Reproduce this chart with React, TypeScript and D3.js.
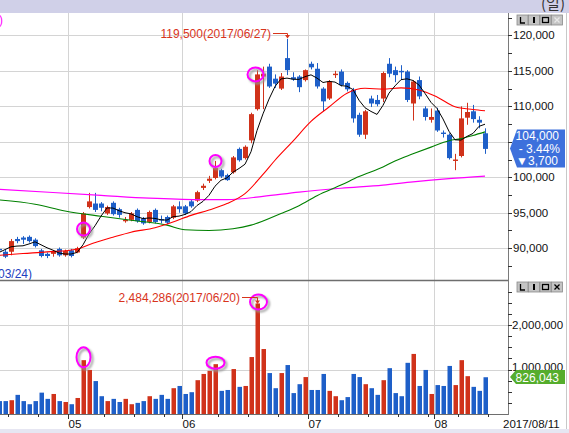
import React from 'react';
import * as d3 from 'd3';

const dates = [
  '04/13','04/14','04/17','04/18','04/19','04/20','04/21','04/24','04/25','04/26','04/27','04/28',
  '05/02','05/04','05/08','05/10','05/11','05/12','05/15','05/16','05/17','05/18','05/19','05/22','05/23','05/24','05/25','05/26','05/29','05/30','05/31',
  '06/01','06/02','06/05','06/07','06/08','06/09','06/12','06/13','06/14','06/15','06/16','06/19','06/20','06/21','06/22','06/23','06/26','06/27','06/28','06/29','06/30',
  '07/03','07/04','07/05','07/06','07/07','07/10','07/11','07/12','07/13','07/14','07/17','07/18','07/19','07/20','07/21','07/24','07/25','07/26','07/27','07/28','07/31',
  '08/01','08/02','08/03','08/04','08/07','08/08','08/09','08/10','08/11'
];

const opens = [
  89900, 89500, 89500, 91300, 91500, 91600, 91200, 89700, 89200, 89200, 89900, 89000,
  89700, 89400, 91500, 95800, 96300, 96300, 94900, 96400, 95500, 93800, 94000, 95400, 94200, 93700, 95400, 94100, 94400, 94300, 95900,
  95900, 96600, 96700, 98500, 99500, 99900, 101000, 100300, 100700, 104000, 102700, 105200, 109600, 114200, 115600, 113900, 112500, 116800, 114100, 114200, 113700,
  116000, 115300, 112500, 111100, 114400, 114900, 113300, 112300, 108800, 106000, 111100, 110900, 111100, 116000, 115100, 115000, 114900, 110400, 113700, 109700, 108100,
  109400, 106300, 106000, 102300, 103000, 108400, 109300, 108100, 106200
];
const highs = [
  90100, 89800, 91300, 91600, 91700, 91800, 91400, 89900, 89400, 89700, 90100, 89800,
  89900, 90200, 95100, 97800, 97800, 96500, 96000, 96600, 95700, 94400, 95100, 95600, 94400, 95300, 95600, 94600, 94600, 96100, 96600,
  96100, 96900, 98100, 99100, 100200, 102300, 101200, 100500, 103000, 104200, 104500, 109100, 115100, 115600, 116000, 114500, 114700, 119500, 114800, 114400, 115200,
  116300, 116100, 112700, 113700, 115000, 115200, 113500, 112600, 109100, 109500, 111500, 111600, 114900, 116800, 115600, 115800, 115100, 113700, 114200, 110000, 109700,
  109800, 106600, 106200, 103300, 110000, 110500, 110200, 108600, 106900
];
const lows = [
  89500, 88600, 89000, 90700, 90600, 90800, 90100, 88700, 88600, 88800, 88800, 88800,
  88700, 89300, 91300, 95600, 95100, 95200, 94700, 94600, 94300, 93600, 93800, 93600, 93300, 93500, 93500, 93500, 93400, 94100, 95000,
  94700, 95700, 96500, 98200, 99200, 99700, 99900, 99500, 100500, 102200, 102500, 104800, 109400, 109600, 112600, 112600, 112300, 114400, 113600, 112000, 113500,
  115200, 112500, 109300, 110900, 114000, 112800, 112100, 107700, 105700, 105400, 109900, 110000, 110600, 114100, 113400, 113800, 110600, 108000, 111000, 108000, 107700,
  106400, 105600, 102500, 101000, 102800, 107400, 107700, 106900, 103300
];
const closes = [
  89700, 88800, 91000, 91000, 91200, 91000, 90300, 88900, 88900, 89500, 89000, 89600,
  88900, 90000, 94900, 96600, 95400, 95700, 95800, 94800, 94700, 94000, 94900, 93800, 93500, 95100, 93700, 93900, 93600, 95900, 95500,
  94900, 95900, 97900, 98800, 99800, 101300, 100100, 99600, 102800, 102400, 104300, 108900, 114500, 114600, 112800, 113200, 114200, 115100, 113800, 112700, 115100,
  115500, 112800, 110700, 113500, 114600, 113000, 112400, 108300, 106000, 109300, 110400, 110300, 114700, 114600, 114400, 114800, 110900, 113500, 111400, 108500, 108500,
  106600, 106100, 102700, 102500, 108300, 109200, 108200, 107700, 104000
];
const volumes = [
  290000, 290000, 310000, 430000, 290000, 220000, 290000, 480000, 340000, 450000, 290000, 270000,
  220000, 360000, 1210000, 990000, 740000, 400000, 290000, 340000, 270000, 340000, 220000, 250000, 290000, 400000, 340000, 430000, 340000, 580000, 630000,
  450000, 490000, 760000, 900000, 970000, 1120000, 520000, 540000, 1010000, 610000, 630000, 1280000, 2484286, 1460000, 920000, 580000, 920000, 1100000, 470000, 670000, 830000,
  540000, 540000, 900000, 520000, 400000, 310000, 380000, 900000, 830000, 670000, 580000, 430000, 760000, 1030000, 470000, 400000, 1150000, 1350000, 630000, 990000, 450000,
  650000, 630000, 1080000, 650000, 1210000, 850000, 610000, 520000, 826043
];

// moving averages
const ma5 = [
  89400, 89800, 90200, 90300, 90340, 90600, 90900, 90480, 90060, 89720, 89320, 89180,
  89180, 89400, 90480, 92000, 93160, 94520, 95680, 95660, 95280, 95000, 94840, 94440, 94180, 94260, 94200, 94000, 93960, 94440, 94520,
  94760, 95160, 96020, 96600, 97460, 98740, 99580, 99920, 100720, 101240, 101840, 103600, 106580, 108940, 111020, 112800, 113860, 113980, 113820, 113800, 114180,
  114440, 113980, 113360, 113520, 113420, 112920, 112840, 112360, 110860, 109800, 109280, 108860, 110140, 111860, 112880, 113760, 113880, 113640, 113000, 111820, 110560,
  109700, 108220, 106480, 105280, 105240, 105760, 106180, 107180, 107480
];
const ma20Idx = [0, 4, 8, 13, 15, 19, 22, 26, 29, 32, 35, 38, 41, 44, 46, 49, 52, 55, 58, 61, 64, 67, 70, 73, 76, 79, 81];
const ma20Val = [89000, 89250, 89480, 89860, 90500, 91550, 92260, 92890, 93690, 94630, 95380, 96300, 97700, 100400, 102400, 105100, 107870, 109900, 111850, 112550, 112420, 112600, 112310, 111320, 109950, 109550, 109370];
const ma60Idx = [0, 6, 11, 17, 22, 28, 31, 35, 39, 42, 47, 50, 53, 57, 60, 64, 66, 69, 72, 75, 77, 79, 81];
const ma60Val = [96800, 96200, 95250, 94500, 93950, 93250, 92600, 92500, 92750, 93250, 94900, 96000, 97400, 98900, 100100, 101450, 102300, 103300, 104250, 105150, 105450, 105900, 106400];
const ma120Idx = [0, 9, 17, 25, 33, 38, 44, 50, 57, 64, 69, 75, 81];
const ma120Val = [98300, 97850, 97450, 97050, 96850, 96850, 97300, 97900, 98450, 98900, 99350, 99800, 100150];

const priceTicks = [90000, 95000, 100000, 105000, 110000, 115000, 120000];
const volTicks = [1000000, 2000000];
const monthStarts = ['05/02', '06/01', '07/03', '08/01'];
const monthLabels = ['05', '06', '07', '08'];
const weekTickDates = ['04/17', '04/24', '05/15', '05/22', '05/29', '06/12', '06/19', '06/26', '07/10', '07/17', '07/24', '07/31', '08/07', '08/14'];
const highlightDates = ['05/08', '06/09', '06/20'];
const highlightPrices = [92700, 102300, 114500];

const RED = '#d0321a';
const BLUE = '#1e5fc8';
const TXTRED = '#d8341c';
const GRID = '#d4d4d4';
const AXIS = '#7a7a7a';
const FONT = '"Liberation Sans", Arial, sans-serif';

const fmt = d3.format(',');

function Buttons({ y, dimX }: { y: number; dimX: boolean }) {
  const xs = [517, 528.5, 540, 551.5];
  return (
    <g>
      {xs.map((bx, j) => (
        <g key={j}>
          <rect x={bx} y={y} width={11} height={10} fill="#c4c4c4" stroke="#8a8a8a" strokeWidth={0.8} />
          {j === 0 && <path d={`M${bx + 3.5} ${y + 2} V${y + 8} H${bx + 8}`} stroke="#000" strokeWidth={1.3} fill="none" />}
          {j === 1 && <rect x={bx + 4.5} y={y + 2} width={2} height={6} fill="#000" />}
          {j === 2 && <rect x={bx + 2.5} y={y + 2.5} width={6} height={5} fill="none" stroke="#000" strokeWidth={1.3} />}
          {j === 3 && <path d={`M${bx + 3} ${y + 2.5} L${bx + 8} ${y + 7.5} M${bx + 8} ${y + 2.5} L${bx + 3} ${y + 7.5}`} stroke={dimX ? '#e8e8e8' : '#000'} strokeWidth={1.3} />}
        </g>
      ))}
    </g>
  );
}

export default function App() {
  const n = dates.length;
  const x = d3.scaleLinear().domain([0, n - 1]).range([-1, -1 + 6 * (n - 1)]);
  const yP = d3.scaleLinear().domain([90000, 120000]).range([248.2, 35.4]);
  const yV = d3.scaleLinear().domain([0, 2000000]).range([414, 325]);

  const idxOf = (d: string) => {
    const k = dates.indexOf(d);
    return k >= 0 ? k : n;
  };

  const lineP = d3.line<[number, number]>().x(d => x(d[0])).y(d => yP(d[1]));
  const ma5Path = lineP(ma5.map((v, k) => [k, v] as [number, number])) || '';
  const smooth = d3.line<[number, number]>().x(d => x(d[0])).y(d => yP(d[1])).curve(d3.curveMonotoneX);
  const ma20Path = smooth(ma20Idx.map((k, j) => [k, ma20Val[j]] as [number, number])) || '';
  const ma60Path = smooth(ma60Idx.map((k, j) => [k, ma60Val[j]] as [number, number])) || '';
  const ma120Path = smooth(ma120Idx.map((k, j) => [k, ma120Val[j]] as [number, number])) || '';

  const maxHigh = d3.max(highs) as number;
  const maxHighIdx = highs.indexOf(maxHigh);
  const maxVol = d3.max(volumes) as number;
  const maxVolIdx = volumes.indexOf(maxVol);

  const last = closes[n - 1];
  const prev = closes[n - 2];
  const diff = last - prev;
  const pct = (diff / prev) * 100;

  const minorPrice = d3.range(87500, 125000, 2500).filter(v => yP(v) > 14 && yP(v) < 279);
  const minorVol = d3.range(250000, 3000000, 250000).filter(v => yV(v) > 288);

  // price labels hidden by the current-price box are not drawn
  const boxTop = 129.5, boxBottom = 167.5;
  const visiblePriceTicks = priceTicks.filter(v => yP(v) < boxTop - 4 || yP(v) > boxBottom + 4);

  const cx = (k: number) => Math.round(x(k));
  const hx = (k: number) => cx(k) + 0.5;
  const hlPriceR = [[6.5, 6.5], [6, 6], [8, 7]];
  const hlVolR = [[7, 10], [9, 6], [8.5, 7.5]];

  return (
    <div style={{ position: 'absolute', left: 0, top: 0 }}>
      <svg width={569} height={433} style={{ display: 'block', fontFamily: FONT }}>
        <defs>
          <clipPath id="cpP"><rect x={0} y={13} width={508} height={267} /></clipPath>
          <clipPath id="cpV"><rect x={0} y={281} width={508} height={133} /></clipPath>
          <filter id="blur" x="-50%" y="-50%" width="200%" height="200%"><feGaussianBlur stdDeviation="1.3" /></filter>
        </defs>
        <rect x={0} y={0} width={569} height={433} fill="#fff" />
        {/* header */}
        <rect x={0} y={0} width={569} height={13} fill="#d0d0e8" />
        <text x={553} y={9} fontSize={15} textAnchor="middle" fill="#333" fontFamily='"Noto Sans CJK KR", sans-serif'>(일)</text>

        {/* gridlines */}
        {priceTicks.map(v => (
          <line key={v} x1={0} x2={508} y1={Math.round(yP(v)) + 0.5} y2={Math.round(yP(v)) + 0.5} stroke={GRID} />
        ))}
        {volTicks.map(v => (
          <line key={v} x1={0} x2={508} y1={Math.round(yV(v)) + 0.5} y2={Math.round(yV(v)) + 0.5} stroke={GRID} />
        ))}
        {monthStarts.map(d => {
          const gx = cx(idxOf(d)) - 3 + 0.5;
          return <line key={d} x1={gx} x2={gx} y1={13} y2={414} stroke={GRID} />;
        })}

        {/* price panel */}
        <g clipPath="url(#cpP)">
          {dates.map((d, k) => {
            const o = opens[k], c = closes[k];
            const col = c >= o ? RED : BLUE;
            const px = cx(k);
            const top = Math.min(yP(o), yP(c));
            const h = Math.max(1, Math.abs(yP(o) - yP(c)));
            return (
              <g key={d}>
                <line x1={px + 0.5} x2={px + 0.5} y1={yP(highs[k])} y2={yP(lows[k])} stroke={col} strokeWidth={1} />
                <rect x={px - 2} y={top} width={5} height={h} fill={col} />
              </g>
            );
          })}
          <path d={ma120Path} fill="none" stroke="#ff00ff" strokeWidth={1.2} />
          <path d={ma60Path} fill="none" stroke="#008000" strokeWidth={1.1} />
          <path d={ma20Path} fill="none" stroke="#ff0000" strokeWidth={1.1} />
          <path d={ma5Path} fill="none" stroke="#000" strokeWidth={1} />
          {highlightDates.map((d, j) => {
            const k = idxOf(d);
            const ex = hx(k) + (j === 2 ? -2 : 0);
            const ey = yP(highlightPrices[j]);
            return (
              <g key={d}>
                <ellipse cx={ex + 2} cy={ey + 2} rx={hlPriceR[j][0]} ry={hlPriceR[j][1]} fill="none" stroke="#999" strokeWidth={2} filter="url(#blur)" />
                <ellipse cx={ex} cy={ey} rx={hlPriceR[j][0]} ry={hlPriceR[j][1]} fill="none" stroke="#ff00ff" strokeWidth={2} />
              </g>
            );
          })}
          <text x={3} y={24} fontSize={12} fill="#ff00ff" textAnchor="end">120)</text>
          <text x={32} y={278} fontSize={12} fill="#2040c0" textAnchor="end">88,600(2017/03/24)</text>
        </g>
        {/* max high annotation */}
        <g>
          <text x={271} y={37.5} fontSize={12} fill={TXTRED} textAnchor="end">{`${fmt(maxHigh)}(2017/${dates[maxHighIdx]})`}</text>
          <path d={`M273 33.5 H${hx(maxHighIdx)} V${yP(maxHigh) - 3}`} fill="none" stroke={TXTRED} strokeWidth={1} />
          <path d={`M${hx(maxHighIdx) - 2.5} ${yP(maxHigh) - 4} L${hx(maxHighIdx) + 2.5} ${yP(maxHigh) - 4} L${hx(maxHighIdx)} ${yP(maxHigh) - 0.5} Z`} fill={TXTRED} />
        </g>

        {/* volume panel */}
        <g clipPath="url(#cpV)">
          {dates.map((d, k) => {
            const col = closes[k] >= opens[k] ? RED : BLUE;
            const px = cx(k);
            return <rect key={d} x={px - 1.5} y={yV(volumes[k])} width={4.5} height={414 - yV(volumes[k])} fill={col} />;
          })}
          {highlightDates.map((d, j) => {
            const k = idxOf(d);
            const ex = hx(k) + (j === 2 ? 1 : 0);
            const ey = yV(volumes[k]) - (j === 0 ? 3 : 1.5);
            return (
              <g key={d}>
                <ellipse cx={ex + 2} cy={ey + 2} rx={hlVolR[j][0]} ry={hlVolR[j][1]} fill="none" stroke="#999" strokeWidth={2} filter="url(#blur)" />
                <ellipse cx={ex} cy={ey} rx={hlVolR[j][0]} ry={hlVolR[j][1]} fill="none" stroke="#ff00ff" strokeWidth={2} />
              </g>
            );
          })}
        </g>
        <g>
          <text x={240} y={301.5} fontSize={12} fill={TXTRED} textAnchor="end">{`${fmt(maxVol)}(2017/${dates[maxVolIdx]})`}</text>
          <path d={`M242 297.5 H${hx(maxVolIdx)} V${yV(maxVol) - 2}`} fill="none" stroke={TXTRED} strokeWidth={1} />
          <path d={`M${hx(maxVolIdx) - 2.5} ${yV(maxVol) - 3} L${hx(maxVolIdx) + 2.5} ${yV(maxVol) - 3} L${hx(maxVolIdx)} ${yV(maxVol) + 0.5} Z`} fill={TXTRED} />
        </g>

        {/* frame lines */}
        <line x1={0} x2={508} y1={280.5} y2={280.5} stroke="#6e6e6e" strokeWidth={1.6} />
        <line x1={0} x2={508} y1={414.5} y2={414.5} stroke="#6e6e6e" strokeWidth={1} />
        <line x1={508.5} x2={508.5} y1={13} y2={415} stroke={AXIS} strokeWidth={1} />
        <line x1={566.5} x2={566.5} y1={13} y2={433} stroke="#c8c8c8" strokeWidth={1} />

        {/* price axis */}
        {minorPrice.map(v => (
          <line key={v} x1={508} x2={512} y1={Math.round(yP(v)) + 0.5} y2={Math.round(yP(v)) + 0.5} stroke="#333" />
        ))}
        {visiblePriceTicks.map(v => (
          <text key={v} x={513} y={yP(v) + 4} fontSize={11.5} fill="#111">{fmt(v)}</text>
        ))}
        {/* volume axis */}
        {minorVol.map(v => (
          <line key={v} x1={508} x2={512} y1={Math.round(yV(v)) + 0.5} y2={Math.round(yV(v)) + 0.5} stroke="#333" />
        ))}
        {volTicks.map(v => (
          <text key={v} x={512} y={yV(v) + (v === 1000000 ? 1 : 4)} fontSize={11.5} fill="#111">{fmt(v)}</text>
        ))}

        <Buttons y={15} dimX={true} />
        <Buttons y={282} dimX={false} />

        {/* current price label */}
        <path d={`M510 148.5 L517 ${boxTop} H565 V${boxBottom} H517 Z`} fill="#3d70dc" />
        <text x={559} y={140} fontSize={12} fill="#fff" textAnchor="end">{fmt(last)}</text>
        <text x={560} y={152.5} fontSize={12} fill="#fff" textAnchor="end">{`- ${Math.abs(pct).toFixed(2)}%`}</text>
        <text x={558} y={165} fontSize={12} fill="#fff" textAnchor="end">{`${diff < 0 ? '▼' : '▲'}${fmt(Math.abs(diff))}`}</text>

        {/* current volume label */}
        <path d="M510 377 L516 370 H565 V384 H516 Z" fill="#55ad2c" />
        <text x={559} y={381.5} fontSize={12} fill="#fff" textAnchor="end">{fmt(volumes[n - 1])}</text>

        {/* bottom axis */}
        {weekTickDates.map(d => {
          const tx = cx(idxOf(d)) - 3 + 0.5;
          return <line key={d} x1={tx} x2={tx} y1={414} y2={417} stroke="#333" />;
        })}
        {monthStarts.map((d, j) => {
          const tx = cx(idxOf(d)) - 3 + 0.5;
          return (
            <g key={d}>
              <line x1={tx} x2={tx} y1={414} y2={419} stroke="#333" />
              <text x={tx} y={427.5} fontSize={11.5} fill="#111">{monthLabels[j]}</text>
            </g>
          );
        })}
        <text x={503} y={427.5} fontSize={11.5} fill="#111">{`2017/${dates[n - 1]}`}</text>
        <rect x={0} y={429} width={569} height={4} fill="#e6e6f2" />
      </svg>
    </div>
  );
}
